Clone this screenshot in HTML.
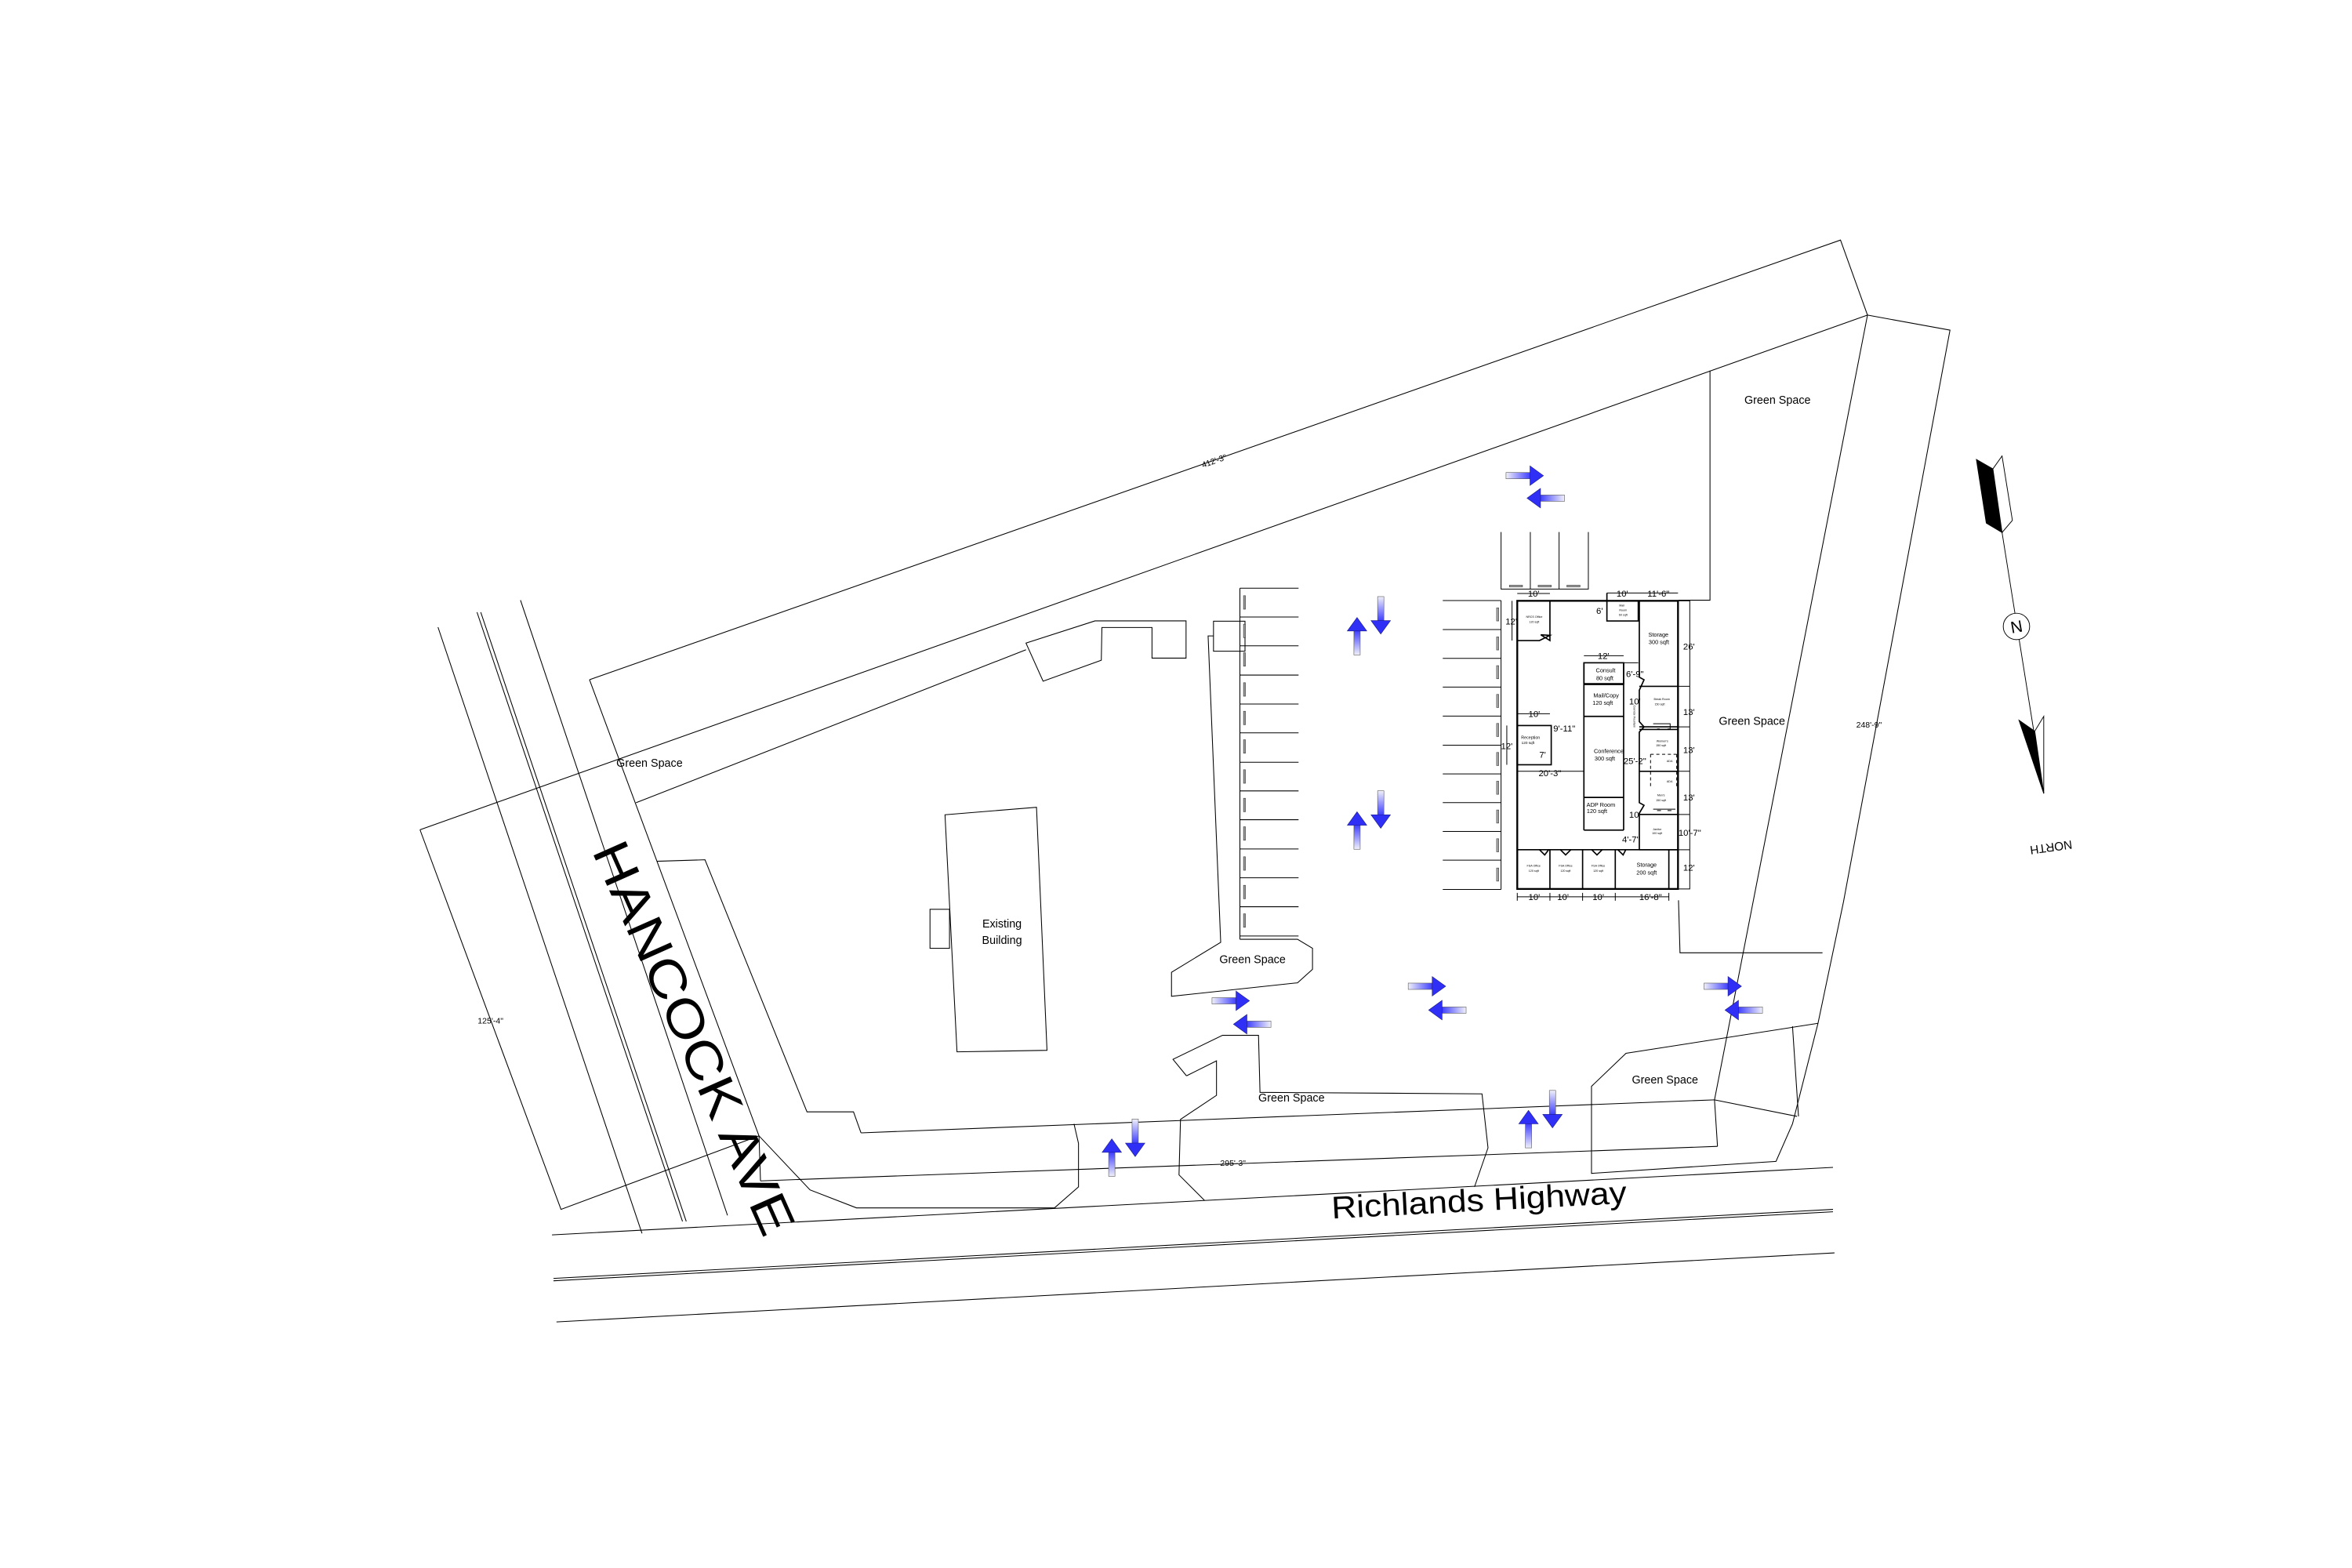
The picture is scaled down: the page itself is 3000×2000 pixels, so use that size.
<!DOCTYPE html>
<html><head><meta charset="utf-8"><style>
html,body{margin:0;padding:0;background:#fff;}
svg{display:block;}
text{font-family:"Liberation Sans",Arial,sans-serif;fill:#000;}
</style></head><body>
<svg width="3000" height="2000" viewBox="0 0 1568 1045" preserveAspectRatio="none" xmlns="http://www.w3.org/2000/svg">
<defs>
<linearGradient id="gs" x1="0" y1="0" x2="1" y2="0">
<stop offset="0" stop-color="#f0f0fa"/><stop offset="1" stop-color="#3535ff"/>
</linearGradient>
<g id="ar">
<rect x="0" y="-2.1" width="17" height="4.2" fill="url(#gs)" stroke="#555" stroke-width="0.3"/>
<polygon points="16,-6.5 25,0 16,6.5" fill="#2f2ff5" stroke="#1a1a80" stroke-width="0.3"/>
</g>
</defs>
<rect width="1568" height="1045" fill="#fff"/>
<g fill="none" stroke="#000" stroke-width="0.55">
<polyline points="393,453 1227,160 1245,210"/>
<line x1="280" y1="553" x2="1245" y2="210"/>
<line x1="424" y1="535" x2="684" y2="433"/>
<polyline points="1140,247 1140,400 1119,400"/>
<line x1="292" y1="418" x2="428" y2="822"/>
<line x1="318" y1="408" x2="455" y2="814"/>
<line x1="320.5" y1="408" x2="457.5" y2="814"/>
<line x1="347" y1="400" x2="485" y2="810"/>
<polyline points="393,453 506,757 507,787"/>
<polyline points="280,553 374,806 506,757"/>
<polyline points="438,574 470,573 538,741 569,741 574,755"/>
<polyline points="506,757 540,793 571,805 703,805 719,791 719,762 716,749"/>
<line x1="574" y1="755" x2="1143" y2="733"/>
<line x1="507" y1="787" x2="1145" y2="764"/>
<line x1="368" y1="823" x2="1222" y2="778"/>
<line x1="369" y1="852" x2="1222" y2="806"/>
<line x1="369" y1="853.6" x2="1222" y2="807.6"/>
<line x1="371" y1="881" x2="1223" y2="835"/>
<polygon points="684,428.6 730,413.8 790.7,413.8 790.7,438.6 768,438.6 768,418.2 734.6,418.2 734.2,440 695.4,454"/>
<polygon points="630,543 691,538 698,700 638,701"/>
<rect x="620" y="606" width="13" height="26"/>
<rect x="809" y="414" width="21" height="20"/>
<polyline points="809,423.8 805.4,423.8 813.8,628 781,648 781,664 865,655 875,646 875,632 865,626 826.6,626"/>
<line x1="826.6" y1="392" x2="826.6" y2="626"/>
<g>
<line x1="826.6" y1="392" x2="865.7" y2="392"/>
<line x1="826.6" y1="411.2" x2="865.7" y2="411.2"/>
<line x1="826.6" y1="430.4" x2="865.7" y2="430.4"/>
<line x1="826.6" y1="449.9" x2="865.7" y2="449.9"/>
<line x1="826.6" y1="469.2" x2="865.7" y2="469.2"/>
<line x1="826.6" y1="488.4" x2="865.7" y2="488.4"/>
<line x1="826.6" y1="508" x2="865.7" y2="508"/>
<line x1="826.6" y1="527.1" x2="865.7" y2="527.1"/>
<line x1="826.6" y1="546.3" x2="865.7" y2="546.3"/>
<line x1="826.6" y1="565.8" x2="865.7" y2="565.8"/>
<line x1="826.6" y1="585" x2="865.7" y2="585"/>
<line x1="826.6" y1="604.3" x2="865.7" y2="604.3"/>
<line x1="826.6" y1="623.8" x2="865.7" y2="623.8"/>
</g>
<g fill="#999" stroke="#333" stroke-width="0.3">
<rect x="829" y="397" width="1.3" height="9"/><rect x="829" y="416" width="1.3" height="9"/>
<rect x="829" y="435" width="1.3" height="9"/><rect x="829" y="455" width="1.3" height="9"/>
<rect x="829" y="474" width="1.3" height="9"/><rect x="829" y="493" width="1.3" height="9"/>
<rect x="829" y="513" width="1.3" height="9"/><rect x="829" y="532" width="1.3" height="9"/>
<rect x="829" y="551" width="1.3" height="9"/><rect x="829" y="571" width="1.3" height="9"/>
<rect x="829" y="590" width="1.3" height="9"/><rect x="829" y="609" width="1.3" height="9"/>
</g>
<polyline points="791,717 782,706 815,690 839,690 840,728 988,729 992,765 983,791"/>
<polyline points="791,717 811,707 811,730 787,746 786,783 803,800"/>
<polyline points="1119,600 1120,635 1215,635"/>
<polyline points="1245,210 1300,220 1229,601 1212,682 1195,749 1184,774 1061,782 1061,724 1084,702 1212,682"/>
<polyline points="1245,210 1143,733 1145,764"/>
<line x1="1143" y1="733" x2="1198" y2="744"/>
<line x1="1195" y1="684" x2="1199" y2="744"/>
</g>

<g transform="translate(967.07,339.78) scale(0.17425)" fill="none" stroke="#000" stroke-width="3">
<path d="M193,85V303H527V85 M305,85V303 M415,85V303"/>
<g fill="#aaa" stroke="#444" stroke-width="2"><rect x="225" y="288" width="50" height="7"/><rect x="335" y="288" width="50" height="7"/><rect x="445" y="288" width="50" height="7"/></g>
<path d="M-30,347H193 M-30,458H193 M-30,568H193 M-30,678H193 M-30,789H193 M-30,900H193 M-30,1010H193 M-30,1120H193 M-30,1230H193 M-30,1340H193 M-30,1452H193 M193,347V1452"/>
<g fill="#aaa" stroke="#444" stroke-width="2">
<rect x="176" y="375" width="8" height="50"/><rect x="176" y="486" width="8" height="50"/><rect x="176" y="596" width="8" height="50"/><rect x="176" y="706" width="8" height="50"/><rect x="176" y="817" width="8" height="50"/><rect x="176" y="928" width="8" height="50"/><rect x="176" y="1038" width="8" height="50"/><rect x="176" y="1148" width="8" height="50"/><rect x="176" y="1258" width="8" height="50"/><rect x="176" y="1370" width="8" height="50"/>
</g>
<rect x="255" y="348" width="615" height="1102" stroke-width="7"/>
<path d="M870,1450H915V348H870 M870,675H915 M870,830H915 M870,1000H915 M870,1165H915 M870,1300H915"/>
<g stroke-width="5">
<path d="M255,500H340 L380,480 L345,478 L380,500 V348"/>
<path d="M598,318V425H718V348"/>
<path d="M722,348V640 L740,650 L722,690 V810 L740,830 L722,850 V1120 L740,1130 L722,1160 V1300"/>
<path d="M722,675H870 M722,830H870 M722,840H870 M722,1000H870 M722,1165H870 M722,1300H870"/>
<rect x="510" y="585" width="152" height="80"/>
<path d="M510,668H662 M510,790H662 M510,1100H662 M510,1225H662 M510,585V1225 M662,585V1225"/>
<rect x="255" y="825" width="130" height="150"/>
<path d="M255,1300H870 M380,1300V1450 M505,1300V1450 M630,1300V1450 M835,1300V1450"/>
<path d="M340,1300 L360,1320 L375,1300 M420,1300 L440,1320 L460,1300 M540,1300 L560,1320 L580,1300 M640,1300 L660,1320 L670,1300"/>
</g>
<path d="M255,320H380 M235,348V500 M510,558H662 M255,780H380 M215,825V975 M255,1000H510 M255,1480H835 M255,1465V1495 M380,1465V1495 M505,1465V1495 M630,1465V1495 M835,1465V1495 M598,318H870 M662,585H718"/>
<path d="M775,818H840V840 M790,838H800 M830,838H840 M775,1145H860 M790,1150H805 M830,1150H845" stroke-width="3"/>
<path d="M765,935V1060 M865,935V1060 M765,935H865" stroke-dasharray="12,10"/>
<g fill="#000" stroke="none" text-anchor="middle" font-size="34">
<text x="318" y="332">10'</text><text x="657" y="332">10'</text><text x="795" y="332">11'-6"</text>
<text x="570" y="398">6'</text><text x="232" y="438">12'</text><text x="912" y="535">26'</text>
<text x="585" y="570">12'</text><text x="705" y="640">6'-9"</text><text x="705" y="745">10'</text>
<text x="912" y="785">13'</text><text x="912" y="930">13'</text><text x="912" y="1112">13'</text>
<text x="915" y="1247">10'-7"</text><text x="912" y="1380">12'</text><text x="320" y="792">10'</text>
<text x="435" y="848">9'-11"</text><text x="215" y="915">12'</text><text x="352" y="948">7'</text>
<text x="380" y="1018">20'-3"</text><text x="705" y="972">25'-2"</text><text x="705" y="1178">10'</text>
<text x="690" y="1272">4'-7"</text><text x="320" y="1492">10'</text><text x="430" y="1492">10'</text>
<text x="565" y="1492">10'</text><text x="765" y="1492">16'-8"</text>
</g>
<g fill="#000" stroke="none" text-anchor="middle" font-size="22">
<text x="795" y="485">Storage</text><text x="797" y="514">300 sqft</text>
<text x="593" y="622">Consult</text><text x="590" y="652">80 sqft</text>
<text x="595" y="718">Mail/Copy</text><text x="582" y="746">120 sqft</text>
<text x="605" y="930">Conference</text><text x="590" y="958">300 sqft</text>
<text x="575" y="1136">ADP Room</text><text x="560" y="1160">120 sqft</text>
<text x="750" y="1365">Storage</text><text x="750" y="1395">200 sqft</text>
<text x="306" y="876" font-size="16">Reception</text><text x="296" y="896" font-size="14">120 sqft</text>
</g>
<g fill="#000" stroke="none" text-anchor="middle" font-size="11">
<text x="320" y="413">NRCS Office</text><text x="320" y="433">120 sqft</text>
<text x="655" y="370">Mail</text><text x="660" y="387">Room</text><text x="660" y="405">60 sqft</text>
<text x="808" y="728">Break Room</text><text x="800" y="748">150 sqft</text>
<text x="810" y="888">Women's</text><text x="805" y="905">150 sqft</text>
<text x="805" y="1095">Men's</text><text x="805" y="1115">150 sqft</text>
<text x="790" y="1225">Janitor</text><text x="790" y="1240">100 sqft</text>
<text x="318" y="1365">FSA Office</text><text x="318" y="1385">120 sqft</text>
<text x="440" y="1365">FSA Office</text><text x="440" y="1385">120 sqft</text>
<text x="565" y="1365">FSA Office</text><text x="565" y="1385">120 sqft</text>
<text x="838" y="965">ADA</text><text x="838" y="1043">ADA</text>
<text x="700" y="790" transform="rotate(90 700 790)">Corridor Fountain</text>
</g>
</g>

<use href="#ar" transform="translate(1004,317)"/>
<use href="#ar" transform="translate(1043,332) rotate(180)"/>
<use href="#ar" transform="translate(904.7,436.5) rotate(-90)"/>
<use href="#ar" transform="translate(920.5,397.6) rotate(90)"/>
<use href="#ar" transform="translate(904.7,566) rotate(-90)"/>
<use href="#ar" transform="translate(920.5,527) rotate(90)"/>
<use href="#ar" transform="translate(808,667)"/>
<use href="#ar" transform="translate(847.3,682.6) rotate(180)"/>
<use href="#ar" transform="translate(938.8,657.3)"/>
<use href="#ar" transform="translate(977.4,673.2) rotate(180)"/>
<use href="#ar" transform="translate(1136,657.3)"/>
<use href="#ar" transform="translate(1175,673.2) rotate(180)"/>
<use href="#ar" transform="translate(741.2,784) rotate(-90)"/>
<use href="#ar" transform="translate(756.8,745.8) rotate(90)"/>
<use href="#ar" transform="translate(1019,765) rotate(-90)"/>
<use href="#ar" transform="translate(1035,726.7) rotate(90)"/>

<g stroke="#000" stroke-width="0.5">
<polygon points="1317.6,306.2 1328.6,312.5 1334.7,354.9 1324.2,348.6" fill="#000"/>
<polygon points="1328.6,312.5 1334.7,303.9 1341.6,346.8 1334.7,354.9" fill="#fff"/>
<line x1="1334.7" y1="354.9" x2="1362.5" y2="528.8"/>
<circle cx="1344.3" cy="417.5" r="8.8" fill="#fff"/>
<polygon points="1346,480 1356.5,487.3 1362.5,528.8" fill="#000"/>
<polygon points="1356.5,487.3 1362.5,477.4 1362.5,528.8" fill="#fff"/>
</g>
<text x="1344.3" y="421.5" font-size="11" text-anchor="middle" transform="rotate(-10 1344.3 417.5)">N</text>
<text x="1367" y="562" font-size="8" text-anchor="middle" transform="rotate(172 1367 562)">NORTH</text>

<g font-size="7.5" text-anchor="middle">
<text x="1185" y="269">Green Space</text>
<text x="1168" y="483">Green Space</text>
<text x="433" y="511">Green Space</text>
<text x="835" y="642">Green Space</text>
<text x="861" y="734">Green Space</text>
<text x="1110" y="722">Green Space</text>
<text x="668" y="618">Existing</text>
<text x="668" y="629">Building</text>
</g>
<g font-size="5.5" text-anchor="middle">
<text x="810" y="309" transform="rotate(-19.3 810 309)">412'-3"</text>
<text x="1246" y="485">248'-9"</text>
<text x="327" y="682">125'-4"</text>
<text x="822" y="777">295'-3"</text>
</g>
<text x="986" y="807" font-size="21" text-anchor="middle" textLength="197" lengthAdjust="spacingAndGlyphs" transform="rotate(-3 986 800)">Richlands Highway</text>
<text x="462" y="703" font-size="34" text-anchor="middle" textLength="283" lengthAdjust="spacingAndGlyphs" transform="rotate(66 462 692)">HANCOCK AVE</text>
</svg>
</body></html>
